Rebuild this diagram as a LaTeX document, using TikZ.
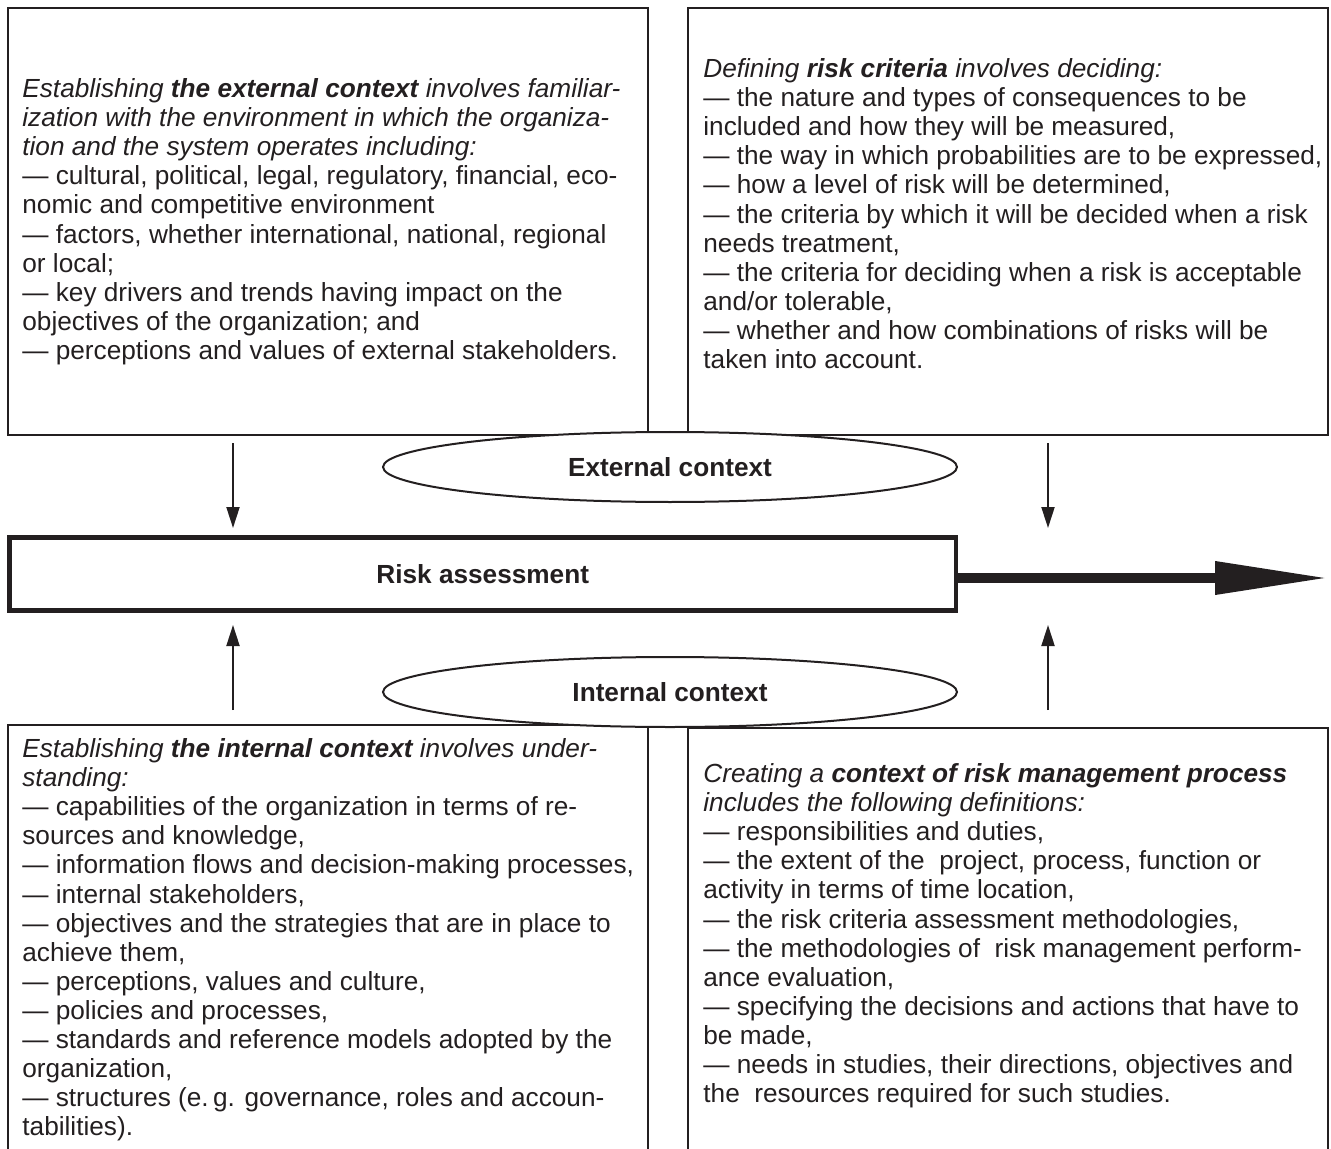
\documentclass[tikz,border=0pt]{standalone}
\usepackage{fontspec}
\setmainfont{Liberation Sans}
\usetikzlibrary{shapes.geometric,arrows.meta}
\definecolor{ink}{HTML}{231F20}
\newcommand\boxfont{\fontsize{13.1pt}{14.55pt}\selectfont}

\begin{document}
\begin{tikzpicture}[x=0.5pt, y=-0.5pt,
  frame/.style={draw=ink, line width=1pt, inner sep=0pt, outer sep=0pt,
                minimum width=320pt},
  openbox/.style={inner sep=0pt, outer sep=0pt, minimum width=320pt},
  txt/.style={anchor=north west, align=left, inner sep=0pt,
              font=\boxfont, text=ink},
  oval/.style={ellipse, draw=ink, line width=1pt, fill=white,
               minimum width=287pt, minimum height=35pt, inner sep=0pt,
               font=\boxfont\bfseries, text=ink},
  mainbox/.style={draw=ink, line width=2.25pt, inner sep=0pt, outer sep=0pt,
                  minimum width=473.25pt, minimum height=36.5pt,
                  font=\boxfont\bfseries, text=ink},
  arr/.style={-{Triangle[length=10.5pt,width=6.5pt]}, line width=1pt, draw=ink},
  bigarr/.style={-{Triangle[length=57pt,width=15.5pt]}, line width=5pt, draw=ink}
]
  \useasboundingbox (0,0) rectangle (1331,1149);

  % frames
  \node[frame, minimum height=213.5pt] (extbox)  at (328,221.5)  {};
  \node[frame, minimum height=213.5pt] (critbox) at (1008,221.5) {};
  \node[openbox, minimum height=217.5pt] (intbox)  at (328,942.5)  {};
  \node[openbox, minimum height=216pt]   (procbox) at (1008,944)   {};
  \draw[ink, line width=1pt] (intbox.south west) |- (intbox.north east) -- (intbox.south east);
  \draw[ink, line width=1pt] (procbox.south west) |- (procbox.north east) -- (procbox.south east);

  \node[mainbox] (risk) at (482.75,574) {Risk assessment};

  % texts
  \node[txt] (exttxt) at (22,78.2) {%
    \textit{Establishing \textbf{the external context} involves familiar-}\\
    \textit{ization with the environment in which the organiza-}\\
    \textit{tion and the system operates including:}\\
    --- cultural, political, legal, regulatory, financial, eco-\\
    nomic and competitive environment\\
    --- factors, whether international, national, regional\\
    or local;\\
    --- key drivers and trends having impact on the\\
    objectives of the organization; and\\
    --- perceptions and values of external stakeholders.};

  \node[txt] (crittxt) at (703,58.2) {%
    \textit{Defining \textbf{risk criteria} involves deciding:}\\
    --- the nature and types of consequences to be\\
    included and how they will be measured,\\
    --- the way in which probabilities are to be expressed,\\
    --- how a level of risk will be determined,\\
    --- the criteria by which it will be decided when a risk\\
    needs treatment,\\
    --- the criteria for deciding when a risk is acceptable\\
    and/or tolerable,\\
    --- whether and how combinations of risks will be\\
    taken into account.};

  \node[txt] (inttxt) at (22,738.2) {%
    \textit{Establishing \textbf{the internal context} involves under-}\\
    \textit{standing:}\\
    --- capabilities of the organization in terms of re-\\
    sources and knowledge,\\
    --- information flows and decision-making processes,\\
    --- internal stakeholders,\\
    --- objectives and the strategies that are in place to\\
    achieve them,\\
    --- perceptions, values and culture,\\
    --- policies and processes,\\
    --- standards and reference models adopted by the\\
    organization,\\
    --- structures (e.\,g. governance, roles and accoun-\\
    tabilities).};

  \node[txt] (proctxt) at (703,763.2) {%
    \textit{Creating a \textbf{context of risk management process}}\\
    \textit{includes the following definitions:}\\
    --- responsibilities and duties,\\
    --- the extent of the\ \ project, process, function or\\
    activity in terms of time location,\\
    --- the risk criteria assessment methodologies,\\
    --- the methodologies of\ \ risk management perform-\\
    ance evaluation,\\
    --- specifying the decisions and actions that have to\\
    be made,\\
    --- needs in studies, their directions, objectives and\\
    the\ \ resources required for such studies.};

  % contexts
  \node[oval] (ext) at (670,467) {External context};
  \node[oval] (int) at (670,692) {Internal context};

  % arrows
  \coordinate (lx) at (233,0);
  \coordinate (rx) at (1048,0);
  \coordinate (tipend) at (1329,578);
  \draw[arr, shorten <=4pt, shorten >=4.75pt] (extbox.south -| lx) -- (risk.north -| lx);
  \draw[arr, shorten <=4pt, shorten >=4.75pt] (critbox.south -| rx) -- (risk.north -| rx);
  \draw[arr, shorten <=7.5pt, shorten >=7.25pt] (intbox.north -| lx) -- (risk.south -| lx);
  \draw[arr, shorten <=9pt, shorten >=7.25pt] (procbox.north -| rx) -- (risk.south -| rx);
  \draw[bigarr] (risk.east |- tipend) -- (tipend);
\end{tikzpicture}
\end{document}
